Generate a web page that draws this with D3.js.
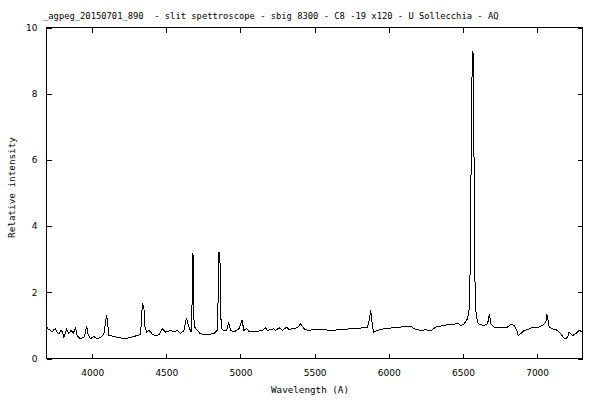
<!DOCTYPE html>
<html>
<head>
<meta charset="utf-8">
<script src="https://cdn.jsdelivr.net/npm/d3@7"></script>
<style>
  html, body { margin: 0; padding: 0; background: #fff; }
  svg { display: block; }
  .tick line { stroke: #000; }
  .tick text { font-family: "DejaVu Sans", sans-serif; font-size: 9px; fill: #000; }
</style>
</head>
<body>
<svg id="chart" width="600" height="400"></svg>
<script>
const titleText = "_agpeg_20150701_890  - slit spettroscope - sbig 8300 - C8 -19 x120 - U Sollecchia - AQ";
const xLabel = "Wavelength (A)";
const yLabel = "Relative intensity";
const xTicks = [4000, 4500, 5000, 5500, 6000, 6500, 7000];
const yTicks = [0, 2, 4, 6, 8, 10];
const xDomain = [3692, 7306];
const yDomain = [0, 10];

const wavelengths = [
  3695,3705,3719,3730,3739,3753,3764,3775,3791,3800,3809,3820,3827,3842,3859,3872,3888,3899,3921,3944,
  3955,3962,3973,3989,4011,4034,4056,4079,4090,4097,4104,4112,4135,4169,4191,4225,4259,4293,4326,4333,
  4338,4349,4353,4367,4382,4405,4428,4450,4473,4495,4529,4551,4574,4596,4619,4635,4652,4668,4675,4679,
  4684,4686,4691,4709,4727,4754,4787,4821,4844,4849,4855,4861,4866,4871,4888,4907,4920,4934,4956,4990,
  5010,5023,5042,5057,5080,5114,5148,5170,5181,5204,5226,5237,5260,5283,5312,5327,5350,5384,5406,5428,
  5451,5496,5541,5608,5676,5743,5811,5856,5867,5878,5885,5897,5924,5968,6013,6081,6148,6171,6216,6250,
  6283,6317,6351,6396,6418,6441,6463,6486,6508,6531,6542,6548,6558,6563,6569,6575,6580,6587,6598,6609,
  6643,6666,6679,6688,6710,6756,6801,6823,6845,6864,6872,6891,6913,6936,6958,6980,7014,7037,7059,7066,
  7082,7104,7138,7160,7183,7206,7216,7239,7262,7284,7305
];
const intensities = [
  0.95,0.88,0.85,0.80,0.86,0.90,0.80,0.75,0.85,0.80,0.64,0.78,0.90,0.76,0.85,0.76,0.93,0.68,0.60,0.64,
  0.80,0.99,0.72,0.60,0.66,0.60,0.64,0.74,1.10,1.32,1.10,0.70,0.68,0.64,0.62,0.60,0.64,0.68,0.72,1.20,
  1.65,1.55,1.00,0.80,0.85,0.74,0.68,0.72,0.90,0.80,0.85,0.80,0.85,0.75,0.85,1.23,0.95,0.80,1.90,3.14,
  3.10,1.20,0.95,0.85,0.76,0.71,0.72,0.76,0.85,1.80,3.21,3.20,1.50,0.90,0.85,0.85,1.10,0.85,0.80,0.90,
  1.17,0.85,0.90,0.82,0.80,0.82,0.85,0.93,0.85,0.87,0.90,0.85,0.93,0.85,0.95,0.87,0.90,0.93,1.05,0.90,
  0.85,0.87,0.88,0.85,0.87,0.90,0.92,0.95,1.15,1.45,1.15,0.80,0.85,0.90,0.92,0.95,0.98,0.90,0.85,0.87,
  0.83,0.95,0.98,1.02,1.03,1.03,1.07,1.00,1.05,1.20,1.50,2.60,7.30,9.30,9.20,5.80,2.50,1.45,1.10,1.03,
  1.00,1.05,1.35,1.05,0.95,0.92,0.95,1.03,1.00,0.85,0.69,0.76,0.85,0.87,0.92,0.95,0.95,1.00,1.10,1.33,
  0.95,0.90,0.85,0.75,0.60,0.63,0.80,0.69,0.76,0.85,0.80
];

(function () {
const svg = d3.select("#chart");
const mLeft = 46, mRight = 582, mTop = 27, mBottom = 358;

const x = d3.scaleLinear().domain(xDomain).range([mLeft, mRight]);
const y = d3.scaleLinear().domain(yDomain).range([mBottom, mTop]);

const g = svg.append("g").attr("transform", "translate(0.5,0.5)");

g.append("g").attr("transform", `translate(0,${mBottom})`)
  .call(d3.axisBottom(x).tickValues(xTicks).tickSize(-5).tickPadding(11).tickFormat(d3.format("d")))
  .call(s => s.select(".domain").remove());
g.append("g").attr("transform", `translate(0,${mTop})`)
  .call(d3.axisTop(x).tickValues(xTicks).tickSize(-5).tickFormat(""))
  .call(s => s.select(".domain").remove());
g.append("g").attr("transform", `translate(${mLeft},0)`)
  .call(d3.axisLeft(y).tickValues(yTicks).tickSize(-5).tickPadding(9).tickFormat(d3.format("d")))
  .call(s => s.select(".domain").remove());
g.append("g").attr("transform", `translate(${mRight},0)`)
  .call(d3.axisRight(y).tickValues(yTicks).tickSize(-5).tickFormat(""))
  .call(s => s.select(".domain").remove());

g.selectAll(".tick line").attr("shape-rendering", "crispEdges");

g.append("rect")
  .attr("x", mLeft).attr("y", mTop)
  .attr("width", mRight - mLeft).attr("height", mBottom - mTop)
  .attr("fill", "none").attr("stroke", "#000").attr("stroke-width", 1)
  .attr("shape-rendering", "crispEdges");

const data = wavelengths.map((w, i) => [w, intensities[i]]);
g.append("path")
  .datum(data)
  .attr("fill", "none")
  .attr("stroke", "#000")
  .attr("stroke-width", 1)
  .attr("shape-rendering", "crispEdges")
  .attr("d", d3.line().x(d => x(d[0])).y(d => y(d[1])));

svg.append("text")
  .attr("x", 43).attr("y", 18.5)
  .attr("font-family", "DejaVu Sans Mono, monospace")
  .attr("font-size", "8.8px")
  .attr("fill", "#000")
  .style("white-space", "pre")
  .text(titleText);

svg.append("text")
  .attr("x", 310).attr("y", 393)
  .attr("text-anchor", "middle")
  .attr("font-family", "DejaVu Sans Mono, monospace")
  .attr("font-size", "9.25px")
  .attr("fill", "#000")
  .text(xLabel);

svg.append("text")
  .attr("transform", "translate(15,187.5) rotate(-90)")
  .attr("text-anchor", "middle")
  .attr("font-family", "DejaVu Sans Mono, monospace")
  .attr("font-size", "9.3px")
  .attr("fill", "#000")
  .text(yLabel);
})();
</script>
</body>
</html>
